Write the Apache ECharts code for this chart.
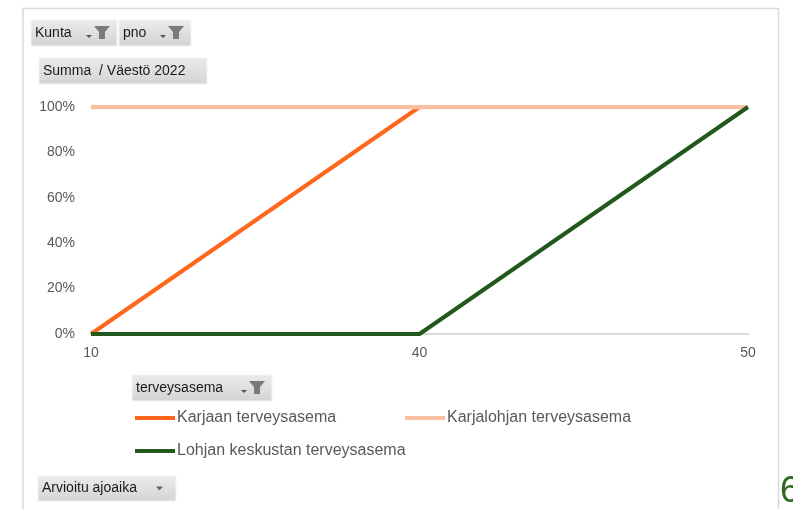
<!DOCTYPE html>
<html>
<head>
<meta charset="utf-8">
<script src="https://cdn.jsdelivr.net/npm/echarts@6/dist/echarts.min.js"></script>
<style>
  html, body { margin: 0; padding: 0; background: #fff; }
  #chart-root { width: 793px; height: 509px; }
</style>
</head>
<body>
<div id="chart-root"></div>
<script>
// arvioitu ajoaika (min)
const categories = ['10', '40', '50']
const seriesNames = ['Karjaan terveysasema', 'Karjalohjan terveysasema', 'Lohjan keskustan terveysasema']
const karjaa = [0, 1, 1]
const karjalohja = [1, 1, 1]
const lohjaKeskusta = [0, 0, 1]
const yTicks = [0, 0.2, 0.4, 0.6, 0.8, 1]

const font = '"Liberation Sans", Arial, sans-serif'
const grey = '#595959'

// pivot field buttons (decoration only)
function fieldButton (x, y, w, h, label, funnel, arrow) {
  let children = [
    {
      type: 'rect',
      shape: {x: 0, y: 0, width: w, height: h},
      style: {
        fill: {
          type: 'linear', x: 0, y: 0, x2: 0, y2: 1,
          colorStops: [{offset: 0, color: '#ececec'}, {offset: 1, color: '#d3d3d3'}]
        },
        stroke: '#f4f4f4',
        lineWidth: 1
      }
    },
    {
      type: 'text',
      style: {x: 4, y: h / 2, text: label, fill: '#1a1a1a', font: '14px ' + font, verticalAlign: 'middle'}
    }
  ]
  if (funnel) {
    children.push({
      type: 'polygon',
      shape: {points: [[w - 23, 6], [w - 7, 6], [w - 12, 12], [w - 12, 19], [w - 18, 19], [w - 18, 12]]},
      style: {fill: '#7a7a7a'}
    })
    children.push({
      type: 'polygon',
      shape: {points: [[w - 31, 15], [w - 25, 15], [w - 28, 18]]},
      style: {fill: '#555'}
    })
  } else if (arrow) {
    children.push({
      type: 'polygon',
      shape: {points: [[w - 20, h / 2 - 2], [w - 13, h / 2 - 2], [w - 16.5, h / 2 + 2]]},
      style: {fill: '#666'}
    })
  }
  return {type: 'group', x: x, y: y, children: children}
}

function legendFor (name, left, top) {
  return {
    data: [name],
    left: left,
    top: top,
    icon: 'rect',
    itemWidth: 40,
    itemHeight: 4,
    itemGap: 0,
    padding: 0,
    textStyle: {color: grey, fontSize: 16, fontFamily: font, padding: [0, 0, 0, -3]},
    selectedMode: false
  }
}

let chart = echarts.init(document.getElementById('chart-root'))

let option = {
  animation: false,
  backgroundColor: '#fff',
  grid: {left: 91, right: 45, top: 107, bottom: 175, containLabel: false},
  xAxis: {
    type: 'category',
    boundaryGap: false,
    data: categories,
    axisLine: {lineStyle: {color: '#d9d9d9', width: 2}},
    axisTick: {show: false},
    axisLabel: {color: grey, fontSize: 14, fontFamily: font, margin: 12}
  },
  yAxis: {
    type: 'value',
    min: 0,
    max: 1,
    interval: 0.2,
    axisLine: {show: false},
    axisTick: {show: false},
    splitLine: {show: false},
    axisLabel: {
      color: grey, fontSize: 14, fontFamily: font, margin: 16,
      formatter: v => yTicks.includes(v) ? Math.round(v * 100) + '%' : ''
    }
  },
  legend: [
    legendFor(seriesNames[0], 135, 410),
    legendFor(seriesNames[1], 405, 410),
    legendFor(seriesNames[2], 135, 443)
  ],
  series: [
    {
      name: seriesNames[0],
      type: 'line',
      data: karjaa,
      showSymbol: false,
      color: '#ff671d',
      lineStyle: {width: 4, color: '#ff671d'}
    },
    {
      name: seriesNames[1],
      type: 'line',
      data: karjalohja,
      showSymbol: false,
      color: '#f9bfa2',
      lineStyle: {width: 4.5, color: '#f9bfa2'}
    },
    {
      name: seriesNames[2],
      type: 'line',
      data: lohjaKeskusta,
      showSymbol: false,
      color: '#21591c',
      lineStyle: {width: 4, color: '#21591c'}
    }
  ],
  graphic: [
    // chart frame
    {
      type: 'polyline',
      shape: {points: [[23, 520], [23, 8.5], [778.5, 8.5], [778.5, 520]]},
      style: {stroke: '#d9d9d9', lineWidth: 1.5, fill: null}
    },
    fieldButton(31, 20, 86, 26, 'Kunta', true),
    fieldButton(119, 20, 72, 26, 'pno', true),
    fieldButton(39, 58, 168, 26, 'Summa  / Väestö 2022', false, false),
    fieldButton(132, 375, 140, 26, 'terveysasema', true),
    fieldButton(38, 476, 138, 25, 'Arvioitu ajoaika', false, true),
    {
      type: 'text',
      left: 780,
      top: 474,
      style: {text: '6', fill: '#2d6a1f', font: '36px ' + font}
    }
  ]
}

chart.setOption(option)
</script>
</body>
</html>
